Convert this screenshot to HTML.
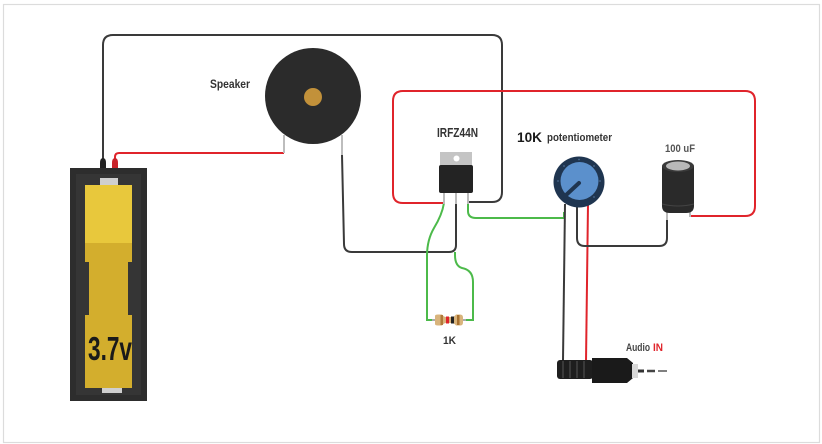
<!DOCTYPE html>
<html><head><meta charset="utf-8"><style>
html,body{margin:0;padding:0;background:#fff;}
svg{display:block;}
text{font-family:"Liberation Sans",sans-serif;font-weight:bold;}
</style></head><body>
<svg width="822" height="444" viewBox="0 0 822 444" xmlns="http://www.w3.org/2000/svg">
<rect x="0" y="0" width="822" height="444" fill="#fff"/>
<rect x="3.5" y="4.5" width="816" height="438" fill="none" stroke="#dcdcdc" stroke-width="1.2"/>

<!-- black wire battery to top loop -->
<path d="M103,162 V45 Q103,35 113,35 H492 Q502,35 502,45 V192 Q502,202 492,202 H468" fill="none" stroke="#3a3a3a" stroke-width="2"/>
<!-- red wire battery to speaker -->
<path d="M115,160 V157 Q115,153 119,153 H284" fill="none" stroke="#e0242b" stroke-width="2"/>
<!-- speaker leads -->
<line x1="284" y1="135" x2="284" y2="153" stroke="#bdbdbd" stroke-width="2"/>
<line x1="342" y1="135" x2="342" y2="156" stroke="#bdbdbd" stroke-width="2"/>
<!-- black wire speaker to mosfet middle -->
<path d="M342,155 L344,244 Q344,252 352,252 H449 Q456,252 456,245 V203" fill="none" stroke="#3a3a3a" stroke-width="2"/>

<!-- red box -->
<path d="M445,203 H403 Q393,203 393,193 V101 Q393,91 403,91 H745 Q755,91 755,101 V206 Q755,216 745,216 H690" fill="none" stroke="#e0242b" stroke-width="2"/>

<!-- green gate wire -->
<path d="M468,203 V211 Q468,218 476,218 H564 V212" fill="none" stroke="#4cba4a" stroke-width="2"/>
<!-- green left pin to resistor -->
<path d="M444,203 Q442,215 434,228 Q427,240 427,256 V320 H436" fill="none" stroke="#4cba4a" stroke-width="2"/>
<!-- green right resistor to middle -->
<path d="M461,320 H473 V282 Q473,270 462,268 Q455,266 455,255 V252" fill="none" stroke="#4cba4a" stroke-width="2"/>

<!-- resistor -->
<line x1="432" y1="320" x2="466" y2="320" stroke="#aaa" stroke-width="2"/>
<path d="M435,316 Q435,314.5 438,314.5 H442 Q444,317 446,317 H452 Q454,317 456,314.5 H460 Q463,314.5 463,317.5 V322.5 Q463,325.5 460,325.5 H456 Q454,323 452,323 H446 Q444,323 442,325.5 H438 Q435,325.5 435,324 Z" fill="#d9b47c"/>
<rect x="440.5" y="315" width="2.5" height="10" fill="#b07a3a"/>
<rect x="446" y="316.5" width="3" height="7" fill="#e0242b"/>
<rect x="451" y="316.5" width="3" height="7" fill="#222"/>
<rect x="457" y="315" width="2.5" height="10" fill="#a8702e"/>
<text x="443" y="344" font-size="11" fill="#333" textLength="13" lengthAdjust="spacingAndGlyphs">1K</text>

<!-- battery holder -->
<rect x="70" y="168" width="77" height="233" fill="#2d2d2d"/>
<rect x="76" y="174" width="65" height="221" fill="#353535"/>
<rect x="100" y="178" width="18" height="8" fill="#cfcfcf"/>
<rect x="102" y="386" width="20" height="7" fill="#cfcfcf"/>
<path d="M85,243 H132 V262 H128 V315 H132 V388 H85 V315 H89 V262 H85 Z" fill="#d3ae2d"/>
<rect x="85" y="185" width="47" height="58" fill="#e8c83c"/>
<text x="88" y="360" font-size="33" fill="#1a1a1a" textLength="44" lengthAdjust="spacingAndGlyphs">3.7v</text>
<!-- battery terminals -->
<path d="M100,168 V163 Q100,158 103,158 Q106,158 106,163 V168 Z" fill="#222"/>
<path d="M112,168 V163 Q112,158 115,158 Q118,158 118,163 V168 Z" fill="#c8232a"/>

<!-- speaker -->
<circle cx="313" cy="96" r="48" fill="#2b2b2b"/>
<circle cx="313" cy="97" r="9" fill="#c2913a"/>
<text x="210" y="88" font-size="12" fill="#333" textLength="40" lengthAdjust="spacingAndGlyphs">Speaker</text>

<!-- MOSFET -->
<text x="437" y="137" font-size="12.5" fill="#333" textLength="41" lengthAdjust="spacingAndGlyphs">IRFZ44N</text>
<line x1="444" y1="192" x2="444" y2="204" stroke="#bbb" stroke-width="2"/>
<line x1="456" y1="192" x2="456" y2="204" stroke="#bbb" stroke-width="2"/>
<line x1="468" y1="192" x2="468" y2="204" stroke="#bbb" stroke-width="2"/>
<rect x="440" y="152" width="32" height="14" fill="#c4c4c4"/>
<circle cx="456.5" cy="158.5" r="3" fill="#fff"/>
<rect x="439" y="165" width="34" height="28" rx="2" fill="#232323"/>

<!-- labels pot -->
<text x="517" y="142" font-size="14" fill="#1a1a1a" textLength="25" lengthAdjust="spacingAndGlyphs">10K</text>
<text x="547" y="141" font-size="11" fill="#333" textLength="65" lengthAdjust="spacingAndGlyphs">potentiometer</text>

<!-- pot wires -->
<line x1="565" y1="204" x2="563" y2="360" stroke="#3a3a3a" stroke-width="2"/>
<line x1="588" y1="204" x2="586" y2="362" stroke="#e0242b" stroke-width="2"/>
<path d="M577,204 V238 Q577,246 585,246 H659 Q667,246 667,238 V212" fill="none" stroke="#3a3a3a" stroke-width="2"/>
<!-- pot -->
<circle cx="579" cy="182" r="25.5" fill="#1f3550"/>
<circle cx="579.5" cy="181" r="19" fill="#5b90cc"/>
<g fill="#4a6a8e">
<circle cx="579" cy="159.5" r="0.9"/><circle cx="594" cy="166" r="0.9"/><circle cx="600" cy="181" r="0.9"/><circle cx="594" cy="197" r="0.9"/><circle cx="564" cy="166" r="0.9"/><circle cx="558" cy="181" r="0.9"/>
</g>
<line x1="579" y1="183" x2="565" y2="196" stroke="#1f3550" stroke-width="4" stroke-linecap="round"/>

<!-- capacitor -->
<text x="665" y="152" font-size="11" fill="#555" textLength="30" lengthAdjust="spacingAndGlyphs">100 uF</text>
<line x1="667" y1="208" x2="667" y2="220" stroke="#bbb" stroke-width="2"/>
<line x1="690" y1="208" x2="690" y2="217" stroke="#bbb" stroke-width="2"/>
<path d="M662,166 V206 Q662,213 670,213 H686 Q694,213 694,206 V166 Z" fill="#2a2a2a"/>
<ellipse cx="678" cy="166" rx="16" ry="6" fill="#3a3a3a"/>
<ellipse cx="678" cy="166" rx="12" ry="4.5" fill="#b8b8b8"/>
<path d="M662,204 Q678,208 694,204" fill="none" stroke="#444" stroke-width="1"/>

<!-- audio jack -->
<text x="626" y="351" font-size="11" fill="#444" textLength="24" lengthAdjust="spacingAndGlyphs">Audio</text>
<text x="653" y="351" font-size="11" fill="#e0242b" textLength="10" lengthAdjust="spacingAndGlyphs">IN</text>
<rect x="557" y="360" width="36" height="19" rx="3" fill="#1e1e1e"/>
<g stroke="#555" stroke-width="1">
<line x1="563" y1="361" x2="563" y2="378"/><line x1="570" y1="361" x2="570" y2="378"/><line x1="577" y1="361" x2="577" y2="378"/><line x1="584" y1="361" x2="584" y2="378"/>
</g>
<path d="M592,358 H627 L633,363 V378 L627,383 H592 Z" fill="#1a1a1a"/>
<rect x="632" y="364" width="6" height="14" fill="#d8d8d8"/>
<line x1="638" y1="371" x2="644" y2="371" stroke="#333" stroke-width="3"/>
<line x1="647" y1="371" x2="655" y2="371" stroke="#444" stroke-width="2.5"/>
<line x1="658" y1="371" x2="667" y2="371" stroke="#555" stroke-width="1.5"/>
</svg>
</body></html>
